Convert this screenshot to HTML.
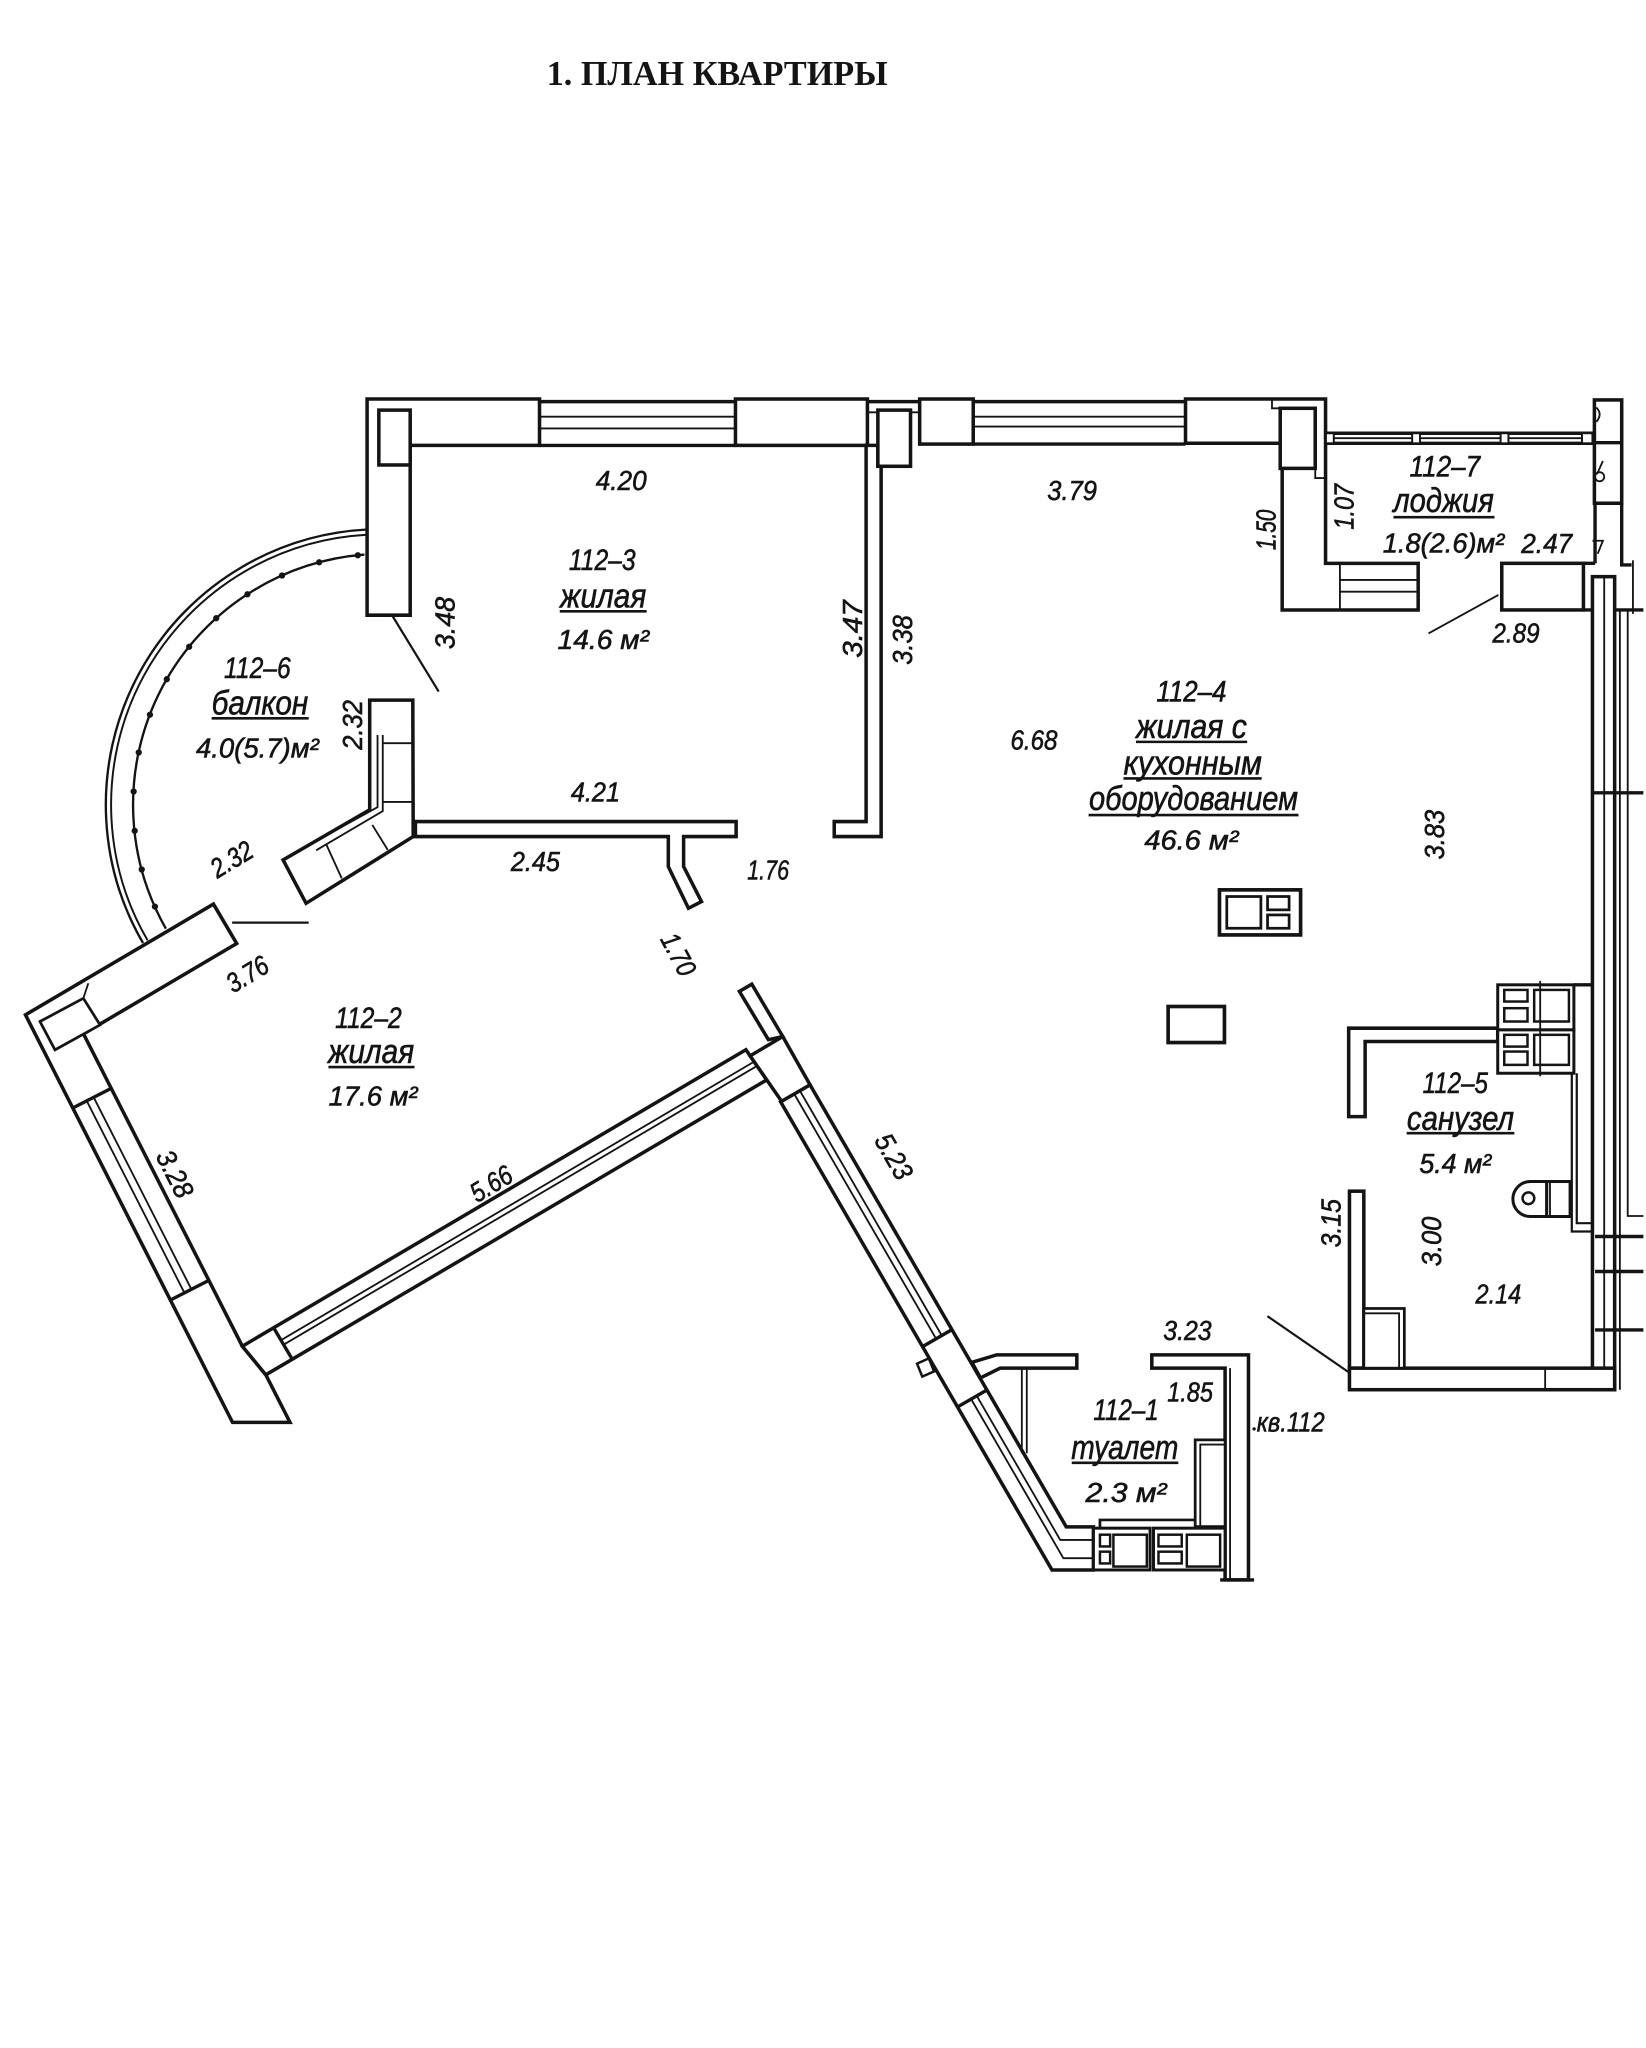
<!DOCTYPE html>
<html><head><meta charset="utf-8">
<style>
html,body{margin:0;padding:0;background:#fff;}
svg{display:block;}
.w{fill:#fff;stroke:#141414;stroke-width:2.7;stroke-linejoin:miter;}
.f{fill:none;stroke:#141414;stroke-width:2.1;}
.l{fill:none;stroke:#141414;stroke-width:1.4;}
.L{fill:none;stroke:#141414;stroke-width:2.6;}
.u{fill:none;stroke:#141414;stroke-width:2;}
.t{font-family:"Liberation Sans","DejaVu Sans",sans-serif;font-style:italic;font-size:21px;fill:#141414;stroke:#141414;stroke-width:0.45;text-anchor:middle;}
.n{font-size:26px;}
.r{font-size:23px;}
</style></head><body>
<svg width="1646" height="2048" viewBox="0 0 1260 1568" preserveAspectRatio="none">
<rect x="0" y="0" width="1260" height="1568" fill="#fff"/>

<!-- Title -->
<text x="549" y="65" font-family="Liberation Serif, serif" font-weight="bold" font-size="27" text-anchor="middle" textLength="261" lengthAdjust="spacingAndGlyphs" fill="#141414">1. ПЛАН КВАРТИРЫ</text>

<!-- ===== Top wall ===== -->
<polygon class="w" points="281,305.5 413,305.5 413,341 314,341 314,471 281,471"/>
<rect class="w" x="290" y="314" width="24" height="42"/>
<path class="L" d="M413,307.5H563 M413,341H563"/>
<path class="l" d="M413,319H563 M413,328H563"/>
<rect class="w" x="563" y="305.5" width="101" height="35.5"/>
<polygon class="w" points="663,341 663,629 638.6,629 638.6,640.5 674.5,640.5 674.5,357 672,357 672,341"/>
<path class="L" d="M664,307.5H704"/>
<path class="l" d="M664,315.7H672 M697,315.7H704"/>
<rect class="w" x="672" y="314" width="25" height="43"/>
<rect class="w" x="704" y="305.5" width="41" height="34.5"/>
<path class="L" d="M745,307.5H907.5 M745,340H907.5"/>
<path class="l" d="M745,319H907.5 M745,326.6H907.5"/>
<polygon class="w" points="907.5,305.5 1014.7,305.5 1014.7,431.3 1085.6,431.3 1085.6,467 981.5,467 981.5,339.4 907.5,339.4"/>
<rect class="w" x="980" y="312.6" width="26.8" height="46"/>
<path class="l" d="M973.7,305.5V312.6H980 M1006.8,358.5V366H1014.7"/>
<path class="l" d="M1025.7,431.3V467 M1025.7,444H1085.6 M1025.7,453H1085.6"/>

<!-- loggia rail -->
<path class="L" d="M1014.7,331.7H1220.5 M1014.7,339.4H1220.5"/>
<path class="l" d="M1014.7,335.5H1220.5"/>
<rect class="w" x="1015" y="331.7" width="6" height="7.7" style="stroke-width:1.5"/>
<rect class="w" x="1081" y="331.7" width="6" height="7.7" style="stroke-width:1.5"/>
<rect class="w" x="1148.7" y="331.7" width="6" height="7.7" style="stroke-width:1.5"/>
<rect class="w" x="1211" y="331.7" width="8" height="7.7" style="stroke-width:1.5"/>

<!-- top-right -->
<rect class="w" x="1220.5" y="306.2" width="20.9" height="79.1"/>
<path class="L" d="M1220.5,338.9H1241.4"/>
<path class="l" d="M1222,312 q5,5 0,11 M1227,353 L1222.5,363"/>
<circle class="l" cx="1224.5" cy="365" r="3.5"/>
<path class="l" d="M1219,414 h8 l-4,10"/>
<path class="L" d="M1221,385V431.3 M1241.4,385V432.5H1249"/>
<path class="l" d="M1250,429V470"/>
<rect class="w" x="1149.6" y="431.3" width="62.5" height="35.7"/>
<path class="L" d="M1212,431.3H1221 M1212,467H1258"/>
<rect class="w" x="1219" y="441.5" width="17" height="622.5"/>
<path class="l" d="M1228,441.5V1064 M1240,467V1064 M1246,467V931H1258"/>
<path class="L" d="M1219,607H1258 M1221,946.7H1258 M1221,973.5H1258 M1221,1018.2H1258"/>
<path class="l" d="M1147,455.5L1093.5,485"/>

<!-- ===== 112-3 lower wall & balcony pier ===== -->
<polygon class="w" points="318,629 563.5,629 563.5,640.5 523.3,640.5 523.3,663.5 537,690.3 527,695.4 511.6,663.5 511.6,640.5 318,640.5"/>
<polygon class="w" points="283,536 316,536 316.3,640.5 234.3,691.6 216.7,658.4 283,620"/>
<path class="l" d="M289,562.7V618L238,646 M293,562.7V621L242,651 M293,569H316 M293,614H316 M250,647L261.6,672.5 M285,631.6L296.8,650.7"/>

<!-- balcony arc -->
<path class="f" d="M281,405.4 A211,211 0 0 0 109.5,722" style="stroke-width:1.8"/>
<path class="f" d="M281,409.4 A207,207 0 0 0 113,720" style="stroke-width:1.5"/>
<path class="f" d="M279,424.6 A192,192 0 0 0 127,711" style="stroke-width:1.8"/>
<g fill="#141414">
<circle cx="273.9" cy="425.1" r="2.4"/><circle cx="244.3" cy="430.5" r="2.4"/><circle cx="215.9" cy="440.6" r="2.4"/>
<circle cx="189.4" cy="455" r="2.4"/><circle cx="165.5" cy="473.3" r="2.4"/><circle cx="144.8" cy="495.2" r="2.4"/>
<circle cx="127.7" cy="520" r="2.4"/><circle cx="114.8" cy="547.2" r="2.4"/><circle cx="106.2" cy="576.1" r="2.4"/>
<circle cx="102.3" cy="606" r="2.4"/><circle cx="103.1" cy="636.1" r="2.4"/><circle cx="108.5" cy="665.7" r="2.4"/>
<circle cx="118.6" cy="694.1" r="2.4"/>
</g>
<path class="l" d="M300.7,472L335.8,529.5 M177.7,706.4H236.3" style="stroke-width:1.7"/>

<!-- ===== 112-2 walls ===== -->
<polygon class="w" points="19.5,777 178,1089 222,1089 203.5,1052.6 185.5,1030.7 63.9,791.5 181.2,722.4 163.4,692.2"/>
<polygon class="w" points="30.6,782.1 63.8,764.3 76.6,784.7 42.1,803.8" style="stroke-width:2.1"/>
<path class="l" d="M63.8,764.3L67.6,752.8"/>
<path class="L" d="M55.7,848.3L85.1,833.3 M130.5,995.3L159.9,980.3"/>
<path class="l" d="M66.4,842.9L141.2,989.9 M71.7,840.1L146.5,987.1"/>
<polygon class="w" points="185.5,1030.7 571,803.7 586.9,826.8 203.5,1052.6"/>
<path class="l" d="M215.1,1026.1L577,813 M217.1,1029.5L579,816.4"/>
<path class="L" d="M209.5,1016.6L223.7,1040.7"/>

<!-- ===== 5.23 wall ===== -->
<polygon class="w" points="566,759 575.5,753.5 599.2,793.6 588.2,796"/>
<polygon class="w" points="574.2,808.4 599.2,793.6 620.1,830.6 598.4,843.3"/>
<polygon class="w" points="597.6,843.6 805.3,1202 837,1202 837,1169 816.2,1169 620.1,830.6"/>
<path class="l" d="M612.3,835.1L720.9,1022.5 M608,837.6L716.6,1025"/>
<path class="L" d="M728.7,1018L706.2,1031 M755.5,1064.2L733,1077.2"/>
<path class="l" d="M747.7,1068.7L811.6,1179H837 M743.4,1071.2L814,1193H837"/>
<polygon class="w" points="711,1040 702,1044 706,1054 715,1050" style="stroke-width:1.9"/>

<!-- ===== toilet 112-1 ===== -->
<polygon class="w" points="744,1043 763,1037.3 824.3,1037.3 824.3,1047.5 765.6,1047.5 750.5,1055"/>
<path class="l" d="M782.2,1047.5V1112.6 M786,1047.5V1112.6"/>
<polygon class="w" points="881.7,1037.3 955.7,1037.3 955.7,1209.6 937.8,1209.6 937.8,1047.5 881.7,1047.5"/>
<path class="l" d="M941.6,1047.5V1209.6"/>
<path class="L" d="M934,1209.6H960"/>
<rect class="w" x="914.9" y="1102.4" width="22.9" height="66.4" style="stroke-width:2.1"/>
<path class="l" d="M918.8,1168.8V1106H937.8"/>
<path class="f" d="M842,1170V1163.7H914.9"/>
<rect class="w" x="837" y="1170" width="43.4" height="32" style="stroke-width:2.3"/>
<rect class="w" x="883" y="1170" width="54.8" height="32" style="stroke-width:2.3"/>
<g class="f" style="stroke-width:1.9">
<rect x="842" y="1175" width="7.8" height="9"/><rect x="842" y="1188" width="7.8" height="9"/>
<rect x="852.3" y="1175" width="25.6" height="24.4"/>
<rect x="886.8" y="1175" width="17.8" height="9"/><rect x="886.8" y="1188" width="17.8" height="9"/>
<rect x="908.5" y="1175" width="25.5" height="24.4"/>
</g>

<!-- ===== bathroom 112-5 ===== -->
<polygon class="w" points="1032.4,787.2 1146.5,787.2 1146.5,797.4 1045,797.4 1045,854.9 1032.4,854.9"/>
<rect class="w" x="1146.5" y="754" width="58.3" height="34.5" style="stroke-width:2.3"/>
<rect class="w" x="1146.5" y="788.5" width="58.3" height="33.2" style="stroke-width:2.3"/>
<g class="f" style="stroke-width:1.9">
<rect x="1151.5" y="757.9" width="17.8" height="8.9"/><rect x="1151.5" y="771.9" width="17.8" height="10.2"/>
<rect x="1174.4" y="757.9" width="26.6" height="24.2"/>
<rect x="1151.5" y="792.3" width="17.8" height="9"/><rect x="1151.5" y="805.1" width="17.8" height="10.2"/>
<rect x="1174.4" y="792.3" width="26.6" height="23"/>
</g>
<path class="l" d="M1179,751V824"/>
<path class="L" d="M1204.8,754H1219"/>
<path class="f" d="M1203.2,821.7V942.9H1219 M1207,821.7V936.5H1219" style="stroke-width:1.7"/>
<path class="w" d="M1184,904.6H1171.5A13.4,13.4 0 0 0 1171.5,931.4H1184Z" style="stroke-width:2.3"/>
<rect class="w" x="1184" y="904.6" width="17.9" height="26.8" style="stroke-width:2.3"/>
<circle class="f" cx="1170" cy="917.4" r="4.5" style="stroke-width:1.9"/>
<path class="l" d="M1186.5,904.6V931.4"/>
<rect class="w" x="1033" y="912" width="11" height="135.5"/>
<rect class="w" x="1033" y="1047.5" width="203" height="16.5"/>
<path class="l" d="M1182.8,1047.5V1064"/>
<rect class="w" x="1044" y="1001.8" width="31" height="45.7" style="stroke-width:2.1"/>
<path class="l" d="M1044,1005.5H1071V1047.5"/>
<path class="l" d="M970.2,1007.7L1033,1051" style="stroke-width:1.7"/>

<!-- ===== kitchen fixtures ===== -->
<rect class="w" x="933.5" y="681.3" width="62.1" height="34.5" style="stroke-width:2.8"/>
<rect class="f" x="939.1" y="686.4" width="26.1" height="24.3"/>
<rect class="f" x="970.3" y="686.4" width="16.5" height="10.2"/>
<rect class="f" x="970.3" y="700.5" width="16.5" height="10.2"/>
<rect class="w" x="894.2" y="770.6" width="43.1" height="27.6" style="stroke-width:2.8"/>

<!-- ===== Labels ===== -->
<g class="t">
<text x="475.5" y="375" textLength="39" lengthAdjust="spacingAndGlyphs">4.20</text>
<text x="820.7" y="383" textLength="38" lengthAdjust="spacingAndGlyphs">3.79</text>
<text class="r" x="461" y="436.5" textLength="51" lengthAdjust="spacingAndGlyphs">112–3</text>
<text class="n" x="461.7" y="465" textLength="66" lengthAdjust="spacingAndGlyphs">жилая</text>
<text x="461.8" y="497" textLength="70" lengthAdjust="spacingAndGlyphs">14.6 м²</text>
<text x="455.8" y="613.5" textLength="37.6" lengthAdjust="spacingAndGlyphs">4.21</text>
<text x="409.8" y="667" textLength="37.5" lengthAdjust="spacingAndGlyphs">2.45</text>
<text x="588" y="673.5" textLength="32" lengthAdjust="spacingAndGlyphs">1.76</text>
<text x="791.5" y="574" textLength="36" lengthAdjust="spacingAndGlyphs">6.68</text>
<text class="r" x="912" y="537" textLength="53.6" lengthAdjust="spacingAndGlyphs">112–4</text>
<text class="n" x="912" y="565" textLength="85" lengthAdjust="spacingAndGlyphs">жилая с</text>
<text class="n" x="913" y="593" textLength="106" lengthAdjust="spacingAndGlyphs">кухонным</text>
<text class="n" x="913.6" y="620" textLength="160" lengthAdjust="spacingAndGlyphs">оборудованием</text>
<text x="912" y="650.5" textLength="72" lengthAdjust="spacingAndGlyphs">46.6 м²</text>
<text class="r" x="1106" y="365" textLength="54" lengthAdjust="spacingAndGlyphs">112–7</text>
<text class="n" x="1105" y="392" textLength="77" lengthAdjust="spacingAndGlyphs">лоджия</text>
<text x="1105" y="423" textLength="93" lengthAdjust="spacingAndGlyphs">1.8(2.6)м²</text>
<text x="1184" y="423.5" textLength="39" lengthAdjust="spacingAndGlyphs">2.47</text>
<text x="1160.5" y="492" textLength="36" lengthAdjust="spacingAndGlyphs">2.89</text>
<text class="r" x="197" y="519" textLength="51" lengthAdjust="spacingAndGlyphs">112–6</text>
<text class="n" x="199" y="547" textLength="74" lengthAdjust="spacingAndGlyphs">балкон</text>
<text x="197" y="580" textLength="94" lengthAdjust="spacingAndGlyphs">4.0(5.7)м²</text>
<text class="r" x="282" y="787" textLength="51" lengthAdjust="spacingAndGlyphs">112–2</text>
<text class="n" x="284" y="814" textLength="66" lengthAdjust="spacingAndGlyphs">жилая</text>
<text x="285.6" y="846.5" textLength="68" lengthAdjust="spacingAndGlyphs">17.6 м²</text>
<text class="r" x="1114" y="837" textLength="50" lengthAdjust="spacingAndGlyphs">112–5</text>
<text class="n" x="1118" y="865" textLength="82" lengthAdjust="spacingAndGlyphs">санузел</text>
<text x="1114" y="898" textLength="55" lengthAdjust="spacingAndGlyphs">5.4 м²</text>
<text x="1147" y="998" textLength="35" lengthAdjust="spacingAndGlyphs">2.14</text>
<text x="909" y="1026" textLength="37" lengthAdjust="spacingAndGlyphs">3.23</text>
<text x="911" y="1073" textLength="35" lengthAdjust="spacingAndGlyphs">1.85</text>
<text class="r" x="862" y="1087" textLength="50" lengthAdjust="spacingAndGlyphs">112–1</text>
<text class="n" x="861" y="1117" textLength="82" lengthAdjust="spacingAndGlyphs">туалет</text>
<text x="862" y="1150" textLength="62" lengthAdjust="spacingAndGlyphs">2.3 м²</text>
<text x="988" y="1096" textLength="52" lengthAdjust="spacingAndGlyphs">кв.112</text>

<!-- rotated -90 -->
<text transform="translate(348,477) rotate(-90)" textLength="40" lengthAdjust="spacingAndGlyphs">3.48</text>
<text transform="translate(660,481.6) rotate(-90)" textLength="44" lengthAdjust="spacingAndGlyphs">3.47</text>
<text transform="translate(698,490) rotate(-90)" textLength="38" lengthAdjust="spacingAndGlyphs">3.38</text>
<text transform="translate(976.5,405.7) rotate(-90)" textLength="31" lengthAdjust="spacingAndGlyphs">1.50</text>
<text transform="translate(1036,388) rotate(-90)" textLength="35" lengthAdjust="spacingAndGlyphs">1.07</text>
<text transform="translate(1105.5,639) rotate(-90)" textLength="38" lengthAdjust="spacingAndGlyphs">3.83</text>
<text transform="translate(277,555) rotate(-90)" textLength="38" lengthAdjust="spacingAndGlyphs">2.32</text>
<text transform="translate(1026,936.5) rotate(-90)" textLength="37" lengthAdjust="spacingAndGlyphs">3.15</text>
<text transform="translate(1103,950.5) rotate(-90)" textLength="38" lengthAdjust="spacingAndGlyphs">3.00</text>

<!-- rotated downward -->
<text transform="translate(513,734) rotate(62)" textLength="34" lengthAdjust="spacingAndGlyphs">1.70</text>
<text transform="translate(127.5,902) rotate(63)" textLength="38" lengthAdjust="spacingAndGlyphs">3.28</text>
<text transform="translate(678,889) rotate(60)" textLength="37" lengthAdjust="spacingAndGlyphs">5.23</text>

<!-- rotated upward -->
<text transform="translate(379.7,912.5) rotate(-31)" textLength="34" lengthAdjust="spacingAndGlyphs">5.66</text>
<text transform="translate(193,752) rotate(-31)" textLength="34" lengthAdjust="spacingAndGlyphs">3.76</text>
<text transform="translate(181,664) rotate(-31)" textLength="34" lengthAdjust="spacingAndGlyphs">2.32</text>
</g>
<circle cx="960" cy="1094" r="1.3" fill="#141414"/>

<!-- underlines -->
<path class="u" d="M428.5,468H495 M869.6,568H954.7 M860,596H965.8 M833.3,624H994 M1066.7,396H1144 M162,550H236.3 M251.4,817H317.3 M1076.8,867.6H1159.2 M820.4,1120H902"/>
</svg>
</body></html>
